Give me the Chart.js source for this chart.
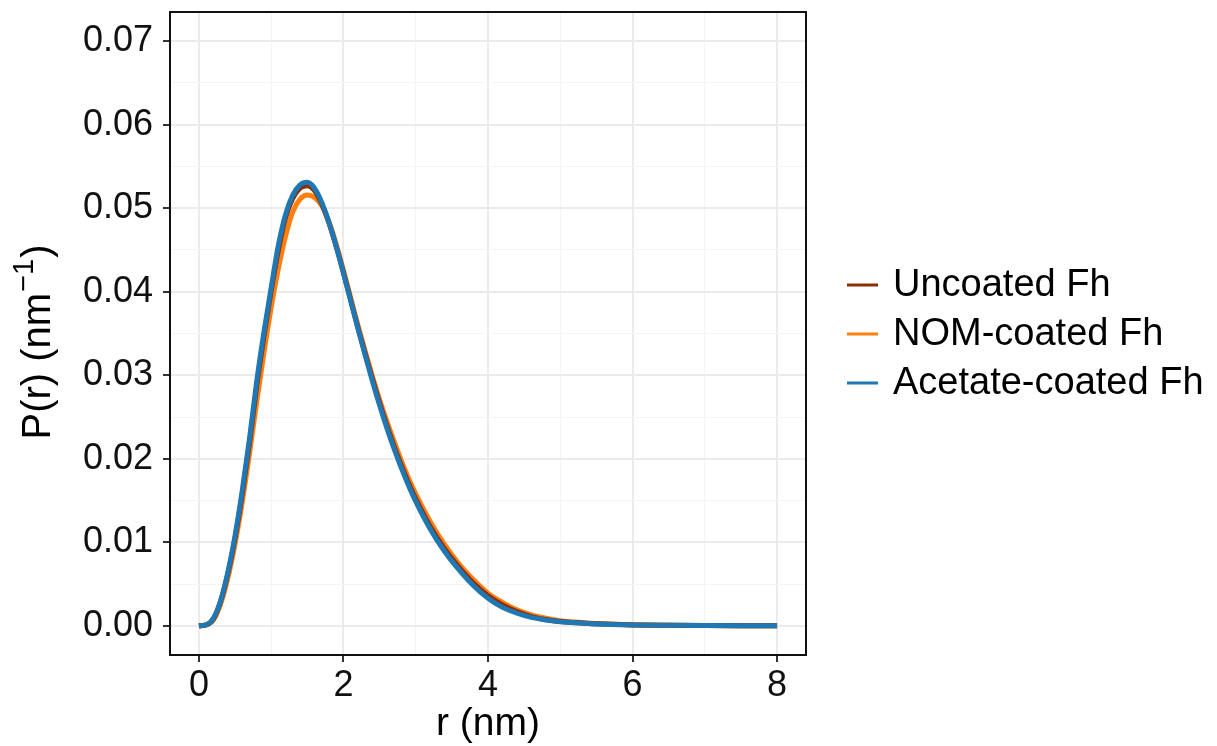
<!DOCTYPE html>
<html>
<head>
<meta charset="utf-8">
<title>P(r)</title>
<script src="https://cdn.jsdelivr.net/npm/chart.js@4/dist/chart.umd.min.js"></script>
<style>
  html, body { margin: 0; padding: 0; background: #fff; }
  #prChart { display: block; }
</style>
</head>
<body>
<canvas id="prChart" width="1217" height="746"></canvas>
<script>
// radius grid (nm)
const radius = [
  0, 0.1, 0.2, 0.3, 0.4, 0.5, 0.6, 0.7, 0.8, 0.9,
  1.0, 1.1, 1.2, 1.3, 1.4, 1.5, 1.6, 1.7, 1.8, 1.9,
  2.0, 2.1, 2.2, 2.3, 2.4, 2.5, 2.6, 2.7, 2.8, 2.9,
  3.0, 3.2, 3.4, 3.6, 3.8, 4.0, 4.2, 4.4, 4.6, 4.8,
  5.0, 5.5, 6.0, 6.5, 7.0, 7.5, 8.0
];

// P(r), nm^-1
const uncoated = [
  0, 0.0001, 0.0008, 0.0029, 0.0062, 0.0105, 0.0158, 0.0219, 0.0287, 0.0347,
  0.0401, 0.0450, 0.0489, 0.0512, 0.0524, 0.0527, 0.0521, 0.0505, 0.0482, 0.0454,
  0.0423, 0.0390, 0.0357, 0.0326, 0.0296, 0.0267, 0.0240, 0.0215, 0.0192, 0.0171,
  0.0152, 0.0119, 0.0092, 0.0070, 0.0051, 0.0036, 0.0025, 0.0017, 0.0011, 0.00075,
  0.0005, 0.00023, 0.0001, 0.00005, 0.00002, 0.00001, 0
];
const nomCoated = [
  0, 0.0001, 0.0007, 0.0026, 0.0057, 0.0098, 0.0148, 0.0206, 0.0268, 0.0327,
  0.0381, 0.0428, 0.0467, 0.0496, 0.0511, 0.0516, 0.0513, 0.0503, 0.0484, 0.0457,
  0.0426, 0.0393, 0.0360, 0.0329, 0.0299, 0.0271, 0.0245, 0.0221, 0.0198, 0.0177,
  0.0158, 0.0125, 0.0097, 0.0074, 0.0055, 0.0039, 0.0028, 0.0019, 0.0013, 0.0009,
  0.0006, 0.00028, 0.00013, 0.00006, 0.00003, 0.00001, 0
];
const acetateCoated = [
  0, 0.0001, 0.0009, 0.0030, 0.0064, 0.0108, 0.0162, 0.0224, 0.0293, 0.0352,
  0.0405, 0.0456, 0.0493, 0.0516, 0.0528, 0.0531, 0.0524, 0.0507, 0.0483, 0.0454,
  0.0422, 0.0389, 0.0356, 0.0324, 0.0293, 0.0264, 0.0237, 0.0212, 0.0189, 0.0168,
  0.0149, 0.0116, 0.0089, 0.0067, 0.0048, 0.0033, 0.0022, 0.0015, 0.0010, 0.0007,
  0.00048, 0.00022, 0.0001, 0.00005, 0.00002, 0.00001, 0
];

const seriesNames = ['Uncoated Fh', 'NOM-coated Fh', 'Acetate-coated Fh'];
const seriesColors = ['#8c2d04', '#ff7f0e', '#1f77b4'];

// axis ticks: labelled (major) and unlabelled (minor)
const xMajor = [0, 2, 4, 6, 8];
const xMinor = [1, 3, 5, 7];
const yMajor = [0, 0.01, 0.02, 0.03, 0.04, 0.05, 0.06, 0.07];
const yMinor = [0.005, 0.015, 0.025, 0.035, 0.045, 0.055, 0.065];

const FONT = '"Liberation Sans", Arial, sans-serif';

function toPoints(ys) {
  return radius.map((r, i) => ({ x: r, y: ys[i] }));
}

function isMajor(list, v) {
  return list.some(m => Math.abs(m - v) < 1e-9);
}

function gridFor(major) {
  return {
    color: c => isMajor(major, c.tick.value) ? '#ebebeb' : '#f4f4f4',
    lineWidth: c => isMajor(major, c.tick.value) ? 2 : 1,
    tickColor: c => isMajor(major, c.tick.value) ? '#333' : 'rgba(0,0,0,0)',
    tickWidth: 2,
    tickLength: 7,
    drawTicks: true
  };
}

// panel border, axis titles and the legend
const decorations = {
  id: 'decorations',
  afterDraw(chart) {
    const ctx = chart.ctx;
    const a = chart.chartArea;
    ctx.save();
    ctx.strokeStyle = '#111';
    ctx.lineWidth = 2;
    ctx.strokeRect(a.left, a.top, a.right - a.left, a.bottom - a.top);

    ctx.fillStyle = '#000';
    ctx.textBaseline = 'middle';

    // x title
    ctx.font = '39px ' + FONT;
    ctx.textAlign = 'center';
    ctx.fillText('r (nm)', (a.left + a.right) / 2, 724);

    // y title with superscript
    ctx.save();
    ctx.translate(39, 342);
    ctx.rotate(-Math.PI / 2);
    const main = 'P(r) (nm';
    const sup = '\u22121';
    const close = ')';
    ctx.font = '40px ' + FONT;
    const wMain = ctx.measureText(main).width;
    const wClose = ctx.measureText(close).width;
    ctx.font = '29px ' + FONT;
    const wSup = ctx.measureText(sup).width;
    let x = -(wMain + wSup + wClose + 2) / 2;
    ctx.textAlign = 'left';
    ctx.font = '40px ' + FONT;
    ctx.fillText(main, x, 0);
    x += wMain + 1;
    ctx.font = '29px ' + FONT;
    ctx.fillText(sup, x, -14);
    x += wSup + 1;
    ctx.font = '40px ' + FONT;
    ctx.fillText(close, x, 0);
    ctx.restore();

    // legend
    const legendY = [285, 334, 383];
    ctx.font = '38px ' + FONT;
    ctx.textAlign = 'left';
    seriesNames.forEach((name, i) => {
      ctx.strokeStyle = seriesColors[i];
      ctx.lineWidth = 3;
      ctx.beginPath();
      ctx.moveTo(847, legendY[i]);
      ctx.lineTo(878, legendY[i]);
      ctx.stroke();
      ctx.fillStyle = '#000';
      ctx.fillText(name, 893, legendY[i] + 1);
    });
    ctx.restore();
  }
};

const series = [uncoated, nomCoated, acetateCoated];
// blue drawn on top, orange underneath
const drawOrder = [1, 2, 0];

new Chart(document.getElementById('prChart'), {
  type: 'line',
  data: {
    datasets: series.map((ys, i) => ({
      label: seriesNames[i],
      data: toPoints(ys),
      borderColor: seriesColors[i],
      backgroundColor: seriesColors[i],
      borderWidth: 5,
      pointRadius: 0,
      cubicInterpolationMode: 'monotone',
      order: drawOrder[i],
      fill: false
    }))
  },
  options: {
    responsive: false,
    animation: false,
    layout: { padding: { top: 12, right: 411, left: 0, bottom: 0 } },
    plugins: {
      legend: { display: false },
      tooltip: { enabled: false }
    },
    scales: {
      x: {
        type: 'linear',
        min: -0.4,
        max: 8.4,
        afterFit: s => {
          s.height = 91;
          s.paddingLeft = 0;
          s.paddingRight = 0;
        },
        afterBuildTicks: s => {
          s.ticks = xMajor.concat(xMinor).sort((p, q) => p - q).map(v => ({ value: v }));
        },
        grid: gridFor(xMajor),
        border: { display: false },
        ticks: {
          autoSkip: false,
          maxRotation: 0,
          padding: 2,
          color: '#111',
          font: { family: FONT, size: 36 },
          callback: v => isMajor(xMajor, v) ? String(v) : ''
        }
      },
      y: {
        type: 'linear',
        min: -0.0035,
        max: 0.0735,
        afterFit: s => {
          s.width = 170;
          s.paddingTop = 0;
          s.paddingBottom = 0;
        },
        afterBuildTicks: s => {
          s.ticks = yMajor.concat(yMinor).sort((p, q) => p - q).map(v => ({ value: v }));
        },
        grid: gridFor(yMajor),
        border: { display: false },
        ticks: {
          autoSkip: false,
          padding: 10,
          color: '#111',
          font: { family: FONT, size: 36 },
          callback: v => isMajor(yMajor, v) ? v.toFixed(2) : ''
        }
      }
    }
  },
  plugins: [decorations]
});
</script>
</body>
</html>
